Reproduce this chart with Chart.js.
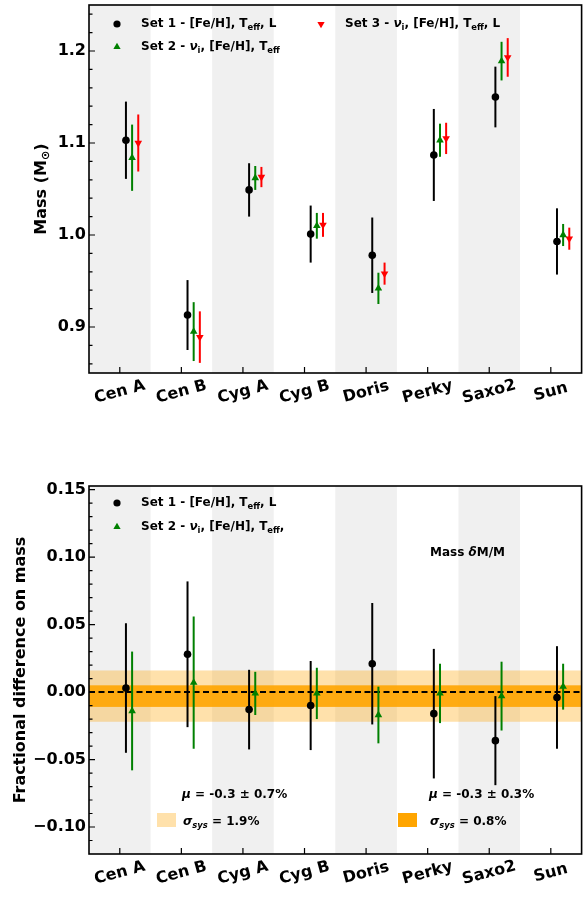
<!DOCTYPE html>
<html>
<head>
<meta charset="utf-8">
<script src="https://cdn.jsdelivr.net/npm/chart.js@4.4.1/dist/chart.umd.min.js"></script>
<style>
  body { margin: 0; background: #fff; }
  #wrap { position: relative; width: 586px; height: 900px; }
  canvas { position: absolute; left: 0; }
</style>
</head>
<body>
<div id="wrap">
  <canvas id="massChart" width="586" height="450" style="top:0"></canvas>
  <canvas id="diffChart" width="586" height="450" style="top:450px"></canvas>
</div>
<script>
// Stars (categories)
const stars = ['Cen A', 'Cen B', 'Cyg A', 'Cyg B', 'Doris', 'Perky', 'Saxo2', 'Sun'];

// Top panel: masses (M_sun) and 1-sigma errors
const set1Mass    = [1.103, 0.913, 1.049, 1.001, 0.978, 1.087, 1.150, 0.993];
const set1MassErr = [0.042, 0.038, 0.029, 0.031, 0.041, 0.050, 0.033, 0.036];
const set2Mass    = [1.084, 0.895, 1.062, 1.010, 0.942, 1.103, 1.189, 1.000];
const set2MassErr = [0.036, 0.032, 0.013, 0.014, 0.017, 0.018, 0.021, 0.012];
const set3Mass    = [1.100, 0.889, 1.063, 1.011, 0.958, 1.105, 1.193, 0.996];
const set3MassErr = [0.031, 0.028, 0.011, 0.013, 0.012, 0.017, 0.021, 0.012];

// Bottom panel: fractional difference on mass
const set1Diff    = [0.003, 0.028, -0.013, -0.010, 0.021, -0.016, -0.036, -0.004];
const set1DiffErr = [0.048, 0.054, 0.0295, 0.033, 0.045, 0.048, 0.033, 0.038];
const set2Diff    = [-0.014, 0.007, -0.001, -0.001, -0.017, -0.001, -0.003, 0.004];
const set2DiffErr = [0.044, 0.049, 0.016, 0.019, 0.021, 0.022, 0.0255, 0.017];

// Systematics (percent)
const sysMean = -0.3;
const sysMeanErr = [0.7, 0.3];
const sysSigma = [1.9, 0.8];

// Tick values / labels
const massTicks = [0.9, 1.0, 1.1, 1.2];
const massTickLabels = ['0.9', '1.0', '1.1', '1.2'];
const diffTicks = [-0.10, -0.05, 0.00, 0.05, 0.10, 0.15];
const diffTickLabels = ['\u22120.10', '\u22120.05', '0.00', '0.05', '0.10', '0.15'];

const FONT = '"DejaVu Sans", "Liberation Sans", sans-serif';
const GREEN = '#008000';
const RED = '#ff0000';
const LIGHT_ORANGE = 'rgba(255, 165, 0, 0.33)';
const DARK_ORANGE = 'rgba(255, 165, 0, 0.9)';

// draw text made of pieces: [text, kind] with kind '', 'it', 'sub', 'itsub'
function richWidth(ctx, parts, size) {
  let w = 0;
  parts.forEach(([t, k]) => {
    const fs = k.includes('sub') ? size * 0.7 : size;
    ctx.font = `${k.includes('it') ? 'italic ' : ''}bold ${fs}px ${FONT}`;
    w += ctx.measureText(t).width;
  });
  return w;
}
function richText(ctx, parts, x, y, size) {
  let cx = x;
  ctx.textBaseline = 'middle';
  ctx.textAlign = 'left';
  parts.forEach(([t, k]) => {
    const sub = k.includes('sub');
    const fs = sub ? size * 0.7 : size;
    ctx.font = `${k.includes('it') ? 'italic ' : ''}bold ${fs}px ${FONT}`;
    ctx.fillText(t, cx, sub ? y + size * 0.28 : y);
    cx += ctx.measureText(t).width;
  });
}

function marker(ctx, style, x, y, color) {
  ctx.fillStyle = color;
  ctx.beginPath();
  if (style === 'circle') {
    ctx.arc(x, y, 3.6, 0, Math.PI * 2);
  } else {
    const r = 4.2, s = style === 'up' ? 1 : -1;
    ctx.moveTo(x, y - s * r);
    ctx.lineTo(x + r * 0.866, y + s * r * 0.5);
    ctx.lineTo(x - r * 0.866, y + s * r * 0.5);
    ctx.closePath();
  }
  ctx.fill();
}

// shared plugin: bands, error bars, frame, inward ticks, x labels
const framePlugin = {
  id: 'frame',
  beforeDatasetsDraw(chart, args, opts) {
    const { ctx, chartArea: a, scales: { x, y } } = chart;
    ctx.save();
    // grey bands on every other star
    ctx.fillStyle = '#f0f0f0';
    stars.forEach((s, i) => {
      if (i % 2) return;
      const x0 = x.getPixelForValue(i - 0.5), x1 = x.getPixelForValue(i + 0.5);
      ctx.fillRect(x0, a.top, x1 - x0, a.bottom - a.top);
    });
    // systematic bands (bottom panel only)
    if (opts.sysBands) {
      [[sysSigma[0], LIGHT_ORANGE], [sysSigma[1], DARK_ORANGE]].forEach(([sig, col]) => {
        const yt = y.getPixelForValue((sysMean + sig) / 100);
        const yb = y.getPixelForValue((sysMean - sig) / 100);
        ctx.fillStyle = col;
        ctx.fillRect(a.left, yt, a.right - a.left, yb - yt);
      });
      const y0 = y.getPixelForValue(0);
      ctx.strokeStyle = '#000';
      ctx.lineWidth = 2;
      ctx.setLineDash([6, 3.5]);
      ctx.beginPath();
      ctx.moveTo(a.left, y0);
      ctx.lineTo(a.right, y0);
      ctx.stroke();
      ctx.setLineDash([]);
    }
    // error bars
    ctx.lineWidth = 2;
    chart.data.datasets.forEach(ds => {
      ctx.strokeStyle = ds.borderColor;
      ds.data.forEach((p, i) => {
        const px = x.getPixelForValue(p.x);
        ctx.beginPath();
        ctx.moveTo(px, y.getPixelForValue(p.y + ds.errors[i]));
        ctx.lineTo(px, y.getPixelForValue(p.y - ds.errors[i]));
        ctx.stroke();
      });
    });
    ctx.restore();
  },
  afterDatasetsDraw(chart, args, opts) {
    const { ctx, chartArea: a, scales: { x, y } } = chart;
    ctx.save();
    ctx.strokeStyle = '#000';
    // inward ticks on the left axis
    ctx.lineWidth = 1.2;
    ctx.beginPath();
    y.ticks.forEach(t => {
      const py = y.getPixelForValue(t.value);
      ctx.moveTo(a.left, py); ctx.lineTo(a.left + 6, py);
    });
    for (let v = opts.minorStart; v < y.max; v += opts.minorStep) {
      if (y.ticks.some(t => Math.abs(t.value - v) < 1e-6)) continue;
      const py = y.getPixelForValue(v);
      ctx.moveTo(a.left, py); ctx.lineTo(a.left + 3.5, py);
    }
    // inward ticks on the bottom axis
    stars.forEach((s, i) => {
      const px = x.getPixelForValue(i);
      ctx.moveTo(px, a.bottom); ctx.lineTo(px, a.bottom - 6);
    });
    ctx.stroke();
    // frame
    ctx.lineWidth = 1.6;
    ctx.strokeRect(a.left, a.top, a.right - a.left, a.bottom - a.top);
    // rotated star names
    ctx.fillStyle = '#000';
    ctx.font = `bold 16px ${FONT}`;
    ctx.textAlign = 'center';
    ctx.textBaseline = 'middle';
    stars.forEach((s, i) => {
      ctx.save();
      ctx.translate(x.getPixelForValue(i), a.bottom + 19);
      ctx.rotate(-15 * Math.PI / 180);
      ctx.fillText(s, 0, 0);
      ctx.restore();
    });
    // y title
    const parts = opts.title;
    const w = richWidth(ctx, parts, 16);
    ctx.save();
    ctx.translate(opts.titleX, (a.top + a.bottom) / 2);
    ctx.rotate(-Math.PI / 2);
    richText(ctx, parts, -w / 2, 0, 16);
    ctx.restore();
    // legend
    ctx.fillStyle = '#000';
    opts.legend.forEach(l => {
      marker(ctx, l.marker, l.x, l.y, l.color);
      ctx.fillStyle = '#000';
      richText(ctx, l.text, l.x + 24, l.y, 12);
    });
    if (opts.extra) opts.extra(ctx, a);
    ctx.restore();
  }
};

function scalesFor(yMin, yMax, ticks, labels, xHeight) {
  return {
    x: {
      type: 'linear', min: -0.5, max: 7.5,
      ticks: { display: false },
      grid: { display: false, drawTicks: false },
      border: { display: false },
      afterFit: s => { s.height = xHeight; }
    },
    y: {
      type: 'linear', min: yMin, max: yMax,
      afterBuildTicks: s => { s.ticks = ticks.map(v => ({ value: v })); },
      ticks: {
        color: '#000', padding: 3,
        font: { family: FONT, weight: 'bold', size: 16 },
        callback: (v, i) => labels[i]
      },
      grid: { display: false, drawTicks: false },
      border: { display: false },
      afterFit: s => { s.width = 89; s.paddingTop = 0; s.paddingBottom = 0; }
    }
  };
}

function points(values, offset) {
  return values.map((v, i) => ({ x: i + offset, y: v }));
}

const baseOptions = {
  responsive: false,
  animation: false,
  events: [],
  plugins: { legend: { display: false }, tooltip: { enabled: false } }
};

const setText1 = [['Set 1 - [Fe/H], T', ''], ['eff', 'sub'], [', L', '']];
const setText2 = [['Set 2 - ', ''], ['\u03bd', 'it'], ['i', 'sub'], [', [Fe/H], T', ''], ['eff', 'sub']];
const setText3 = [['Set 3 - ', ''], ['\u03bd', 'it'], ['i', 'sub'], [', [Fe/H], T', ''], ['eff', 'sub'], [', L', '']];

new Chart(document.getElementById('massChart'), {
  type: 'scatter',
  data: {
    datasets: [
      { label: 'Set 1', data: points(set1Mass, 0.1), errors: set1MassErr,
        backgroundColor: '#000', borderColor: '#000', pointStyle: 'circle', pointRadius: 3.8, pointBorderWidth: 0 },
      { label: 'Set 2', data: points(set2Mass, 0.2), errors: set2MassErr,
        backgroundColor: GREEN, borderColor: GREEN, pointStyle: 'triangle', pointRadius: 4.4, pointBorderWidth: 0 },
      { label: 'Set 3', data: points(set3Mass, 0.3), errors: set3MassErr,
        backgroundColor: RED, borderColor: RED, pointStyle: 'triangle', pointRotation: 180, pointRadius: 4.4, pointBorderWidth: 0 }
    ]
  },
  options: {
    ...baseOptions,
    layout: { padding: { top: 5, right: 3, left: 0, bottom: 0 } },
    scales: scalesFor(0.85, 1.25, massTicks, massTickLabels, 77),
    plugins: {
      ...baseOptions.plugins,
      frame: {
        minorStart: 0.86, minorStep: 0.02,
        title: [['Mass (M', ''], ['\u2299', 'sub'], [')', '']], titleX: 42,
        legend: [
          { marker: 'circle', color: '#000', x: 117, y: 24, text: setText1 },
          { marker: 'up', color: GREEN, x: 117, y: 47, text: setText2 },
          { marker: 'down', color: RED, x: 321, y: 24, text: setText3 }
        ]
      }
    }
  },
  plugins: [framePlugin]
});

new Chart(document.getElementById('diffChart'), {
  type: 'scatter',
  data: {
    datasets: [
      { label: 'Set 1', data: points(set1Diff, 0.1), errors: set1DiffErr,
        backgroundColor: '#000', borderColor: '#000', pointStyle: 'circle', pointRadius: 3.8, pointBorderWidth: 0 },
      { label: 'Set 2', data: points(set2Diff, 0.2), errors: set2DiffErr,
        backgroundColor: GREEN, borderColor: GREEN, pointStyle: 'triangle', pointRadius: 4.4, pointBorderWidth: 0 }
    ]
  },
  options: {
    ...baseOptions,
    layout: { padding: { top: 36, right: 3, left: 0, bottom: 0 } },
    scales: scalesFor(-0.12, 0.1527, diffTicks, diffTickLabels, 46),
    plugins: {
      ...baseOptions.plugins,
      frame: {
        sysBands: true,
        minorStart: -0.11, minorStep: 0.01,
        title: [['Fractional difference on mass', '']], titleX: 21,
        legend: [
          { marker: 'circle', color: '#000', x: 117, y: 53, text: setText1 },
          { marker: 'up', color: GREEN, x: 117, y: 77, text: [...setText2, [',', '']] }
        ],
        extra(ctx, a) {
          ctx.fillStyle = '#000';
          richText(ctx, [['Mass ', ''], ['\u03b4', 'it'], ['M/M', '']], 430, 103, 12);
          [[182, 157, LIGHT_ORANGE, 0], [429, 398, 'rgb(255,165,0)', 1]].forEach(([tx, sx, col, k]) => {
            ctx.fillStyle = '#000';
            richText(ctx, [['\u03bc', 'it'], [` = ${sysMean} \u00b1 ${sysMeanErr[k]}%`, '']], tx, 345, 12);
            ctx.fillStyle = col;
            ctx.fillRect(sx, 363, 19, 14);
            ctx.fillStyle = '#000';
            richText(ctx, [['\u03c3', 'it'], ['sys', 'itsub'], [` = ${sysSigma[k]}%`, '']], tx + 1, 372, 12);
          });
        }
      }
    }
  },
  plugins: [framePlugin]
});
</script>
</body>
</html>
